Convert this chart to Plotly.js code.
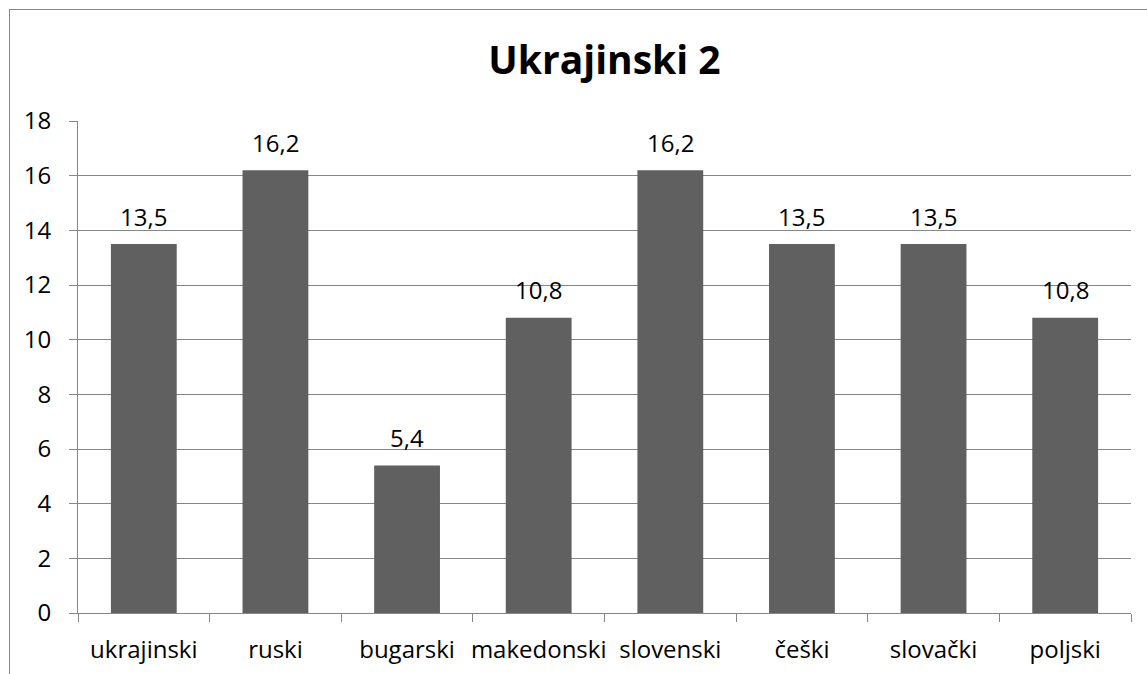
<!DOCTYPE html>
<html>
<head>
<meta charset="utf-8">
<script src="https://cdn.plot.ly/plotly-3.0.1.min.js"></script>
<style>
html,body{margin:0;padding:0;background:#fff;overflow:hidden;}
#wrap{position:relative;width:1147px;height:674px;}
#chart{position:absolute;left:0;top:0;width:1147px;height:674px;}
#frame{position:absolute;left:9px;top:9px;width:3000px;height:3000px;border-left:1px solid #868686;border-top:1px solid #868686;pointer-events:none;}
</style>
</head>
<body>
<div id="wrap"><div id="chart"></div><div id="frame"></div></div>
<script>
const categories = ["ukrajinski","ruski","bugarski","makedonski","slovenski","češki","slovački","poljski"];
const values = [13.5, 16.2, 5.4, 10.8, 16.2, 13.5, 13.5, 10.8];
const yTicks = [0,2,4,6,8,10,12,14,16,18];
const chartTitle = "Ukrajinski 2";

const FONT = '"Open Sans", sans-serif';
const FS = 24;
const fmt = v => v.toFixed(1).replace('.', ',');

const trace = {
  type: 'bar',
  x: categories,
  y: values,
  marker: {color: '#606060', line: {width: 0}},
  width: 0.5,
  hoverinfo: 'none'
};

const annotations = categories.map((c, i) => ({
  x: c, y: values[i], xref: 'x', yref: 'y',
  text: fmt(values[i]), showarrow: false,
  yanchor: 'middle', yshift: 28,
  font: {family: FONT, size: FS, color: '#000'}
}));

const layout = {
  width: 1147, height: 674,
  margin: {l: 78, r: 16, t: 121, b: 61, pad: 0},
  paper_bgcolor: '#fff', plot_bgcolor: '#fff',
  showlegend: false,
  title: {text: '<b>' + chartTitle + '</b>', font: {family: FONT, size: 39, color: '#000'},
          x: 0.5, xanchor: 'center', xref: 'paper', y: 1 - 60/674, yanchor: 'middle', yref: 'container'},
  xaxis: {
    type: 'category', tickson: 'boundaries', ticks: 'outside', ticklen: 8, tickcolor: '#868686', tickwidth: 1,
    showline: true, linecolor: '#868686', linewidth: 1, showgrid: false, zeroline: false,
    tickangle: 0, automargin: false,
    tickfont: {family: FONT, size: FS, color: '#000'}, ticklabelstandoff: 15
  },
  yaxis: {
    range: [0, 18], tickmode: 'array', tickvals: yTicks, ticktext: yTicks.map(String),
    ticks: 'outside', ticklen: 8, tickcolor: '#868686', tickwidth: 1,
    showline: true, linecolor: '#868686', linewidth: 1, automargin: false,
    showgrid: true, gridcolor: '#868686', gridwidth: 1, zeroline: false,
    tickfont: {family: FONT, size: FS, color: '#000'}, ticklabelstandoff: 13
  },
  annotations: annotations,
  bargap: 0.5
};

Plotly.newPlot('chart', [trace], layout, {displayModeBar: false, staticPlot: true});
</script>
</body>
</html>
